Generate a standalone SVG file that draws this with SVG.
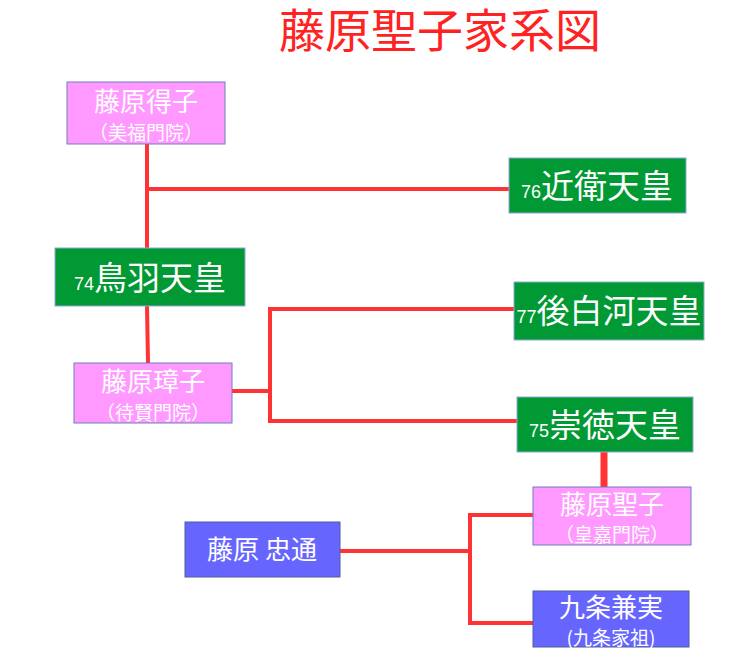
<svg xmlns="http://www.w3.org/2000/svg" width="731" height="657" viewBox="0 0 731 657">
<style>
text{font-family:"Noto Sans CJK JP","Liberation Sans",sans-serif;fill:#fff;text-anchor:middle}
.pink{fill:#ff99ff;stroke:#6f7fc0;stroke-width:1}
.green{fill:#009933;stroke:#8fa8d8;stroke-width:1}
.blue{fill:#6666ff;stroke:#4f5fa0;stroke-width:1}
.c line{stroke:#ff3333;stroke-width:4}
.n{font-size:26px}.s{font-size:19px}.e{font-size:33px}.num{font-size:18px;font-family:"Liberation Sans",sans-serif}
</style>
<rect width="731" height="657" fill="#fff"/>
<text x="440" y="47" style="fill:#ff2222;font-size:46px">藤原聖子家系図</text>
<g class="c">
<line x1="147" y1="144" x2="147" y2="248"/>
<line x1="147" y1="189" x2="509" y2="189"/>
<line x1="147" y1="306" x2="148" y2="363"/>
<line x1="232" y1="391" x2="270" y2="391"/>
<line x1="270" y1="307" x2="270" y2="423"/>
<line x1="268" y1="309" x2="514" y2="309"/>
<line x1="268" y1="421" x2="517" y2="421"/>
<line x1="604" y1="452" x2="604" y2="487" style="stroke-width:7"/>
<line x1="340" y1="551" x2="470" y2="551"/>
<line x1="470" y1="513" x2="470" y2="625"/>
<line x1="468" y1="515" x2="533" y2="515"/>
<line x1="468" y1="623" x2="533" y2="623"/>
</g>
<g id="tokushi"><rect class="pink" x="67" y="82" width="158" height="62"/><text class="n" x="146" y="111">藤原得子</text><text class="s" x="146" y="140">（美福門院）</text></g>
<g id="konoe"><rect class="green" x="509" y="158" width="177" height="55"/><text x="597" y="198"><tspan class="num">76</tspan><tspan class="e">近衛天皇</tspan></text></g>
<g id="toba"><rect class="green" x="55" y="248" width="190" height="58"/><text x="150" y="290"><tspan class="num">74</tspan><tspan class="e">鳥羽天皇</tspan></text></g>
<g id="goshirakawa"><rect class="green" x="514" y="282" width="190" height="58"/><text x="609" y="323"><tspan class="num">77</tspan><tspan class="e">後白河天皇</tspan></text></g>
<g id="shoshi"><rect class="pink" x="74" y="363" width="158" height="60"/><text class="n" x="153" y="391">藤原璋子</text><text class="s" x="153" y="420">（待賢門院）</text></g>
<g id="sutoku"><rect class="green" x="517" y="397" width="176" height="55"/><text x="605" y="437"><tspan class="num">75</tspan><tspan class="e">崇徳天皇</tspan></text></g>
<g id="seishi"><rect class="pink" x="533" y="487" width="158" height="58"/><text class="n" x="612" y="514">藤原聖子</text><text class="s" x="612" y="542">（皇嘉門院）</text></g>
<g id="tadamichi"><rect class="blue" x="185" y="522" width="155" height="55"/><text class="n" x="262" y="559">藤原 忠通</text></g>
<g id="kanezane"><rect class="blue" x="533" y="591" width="156" height="56"/><text class="n" x="611" y="617">九条兼実</text><text class="s" x="611" y="645">(九条家祖)</text></g>
</svg>
